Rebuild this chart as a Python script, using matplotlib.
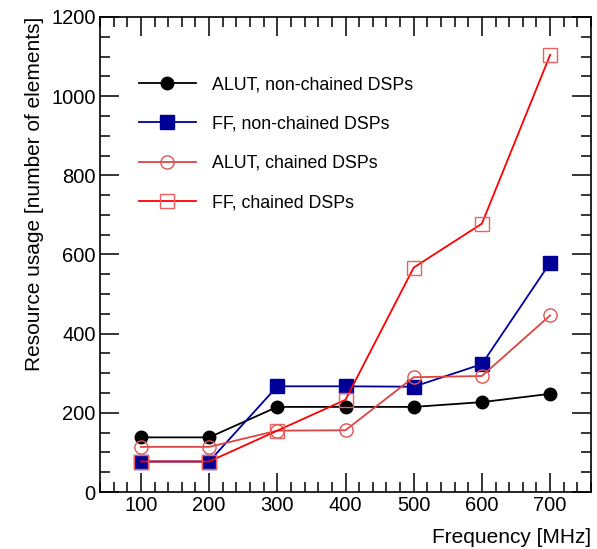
import numpy as np
import matplotlib.pyplot as plt
from matplotlib.ticker import MultipleLocator

plt.rcParams['font.family'] = ['Liberation Sans', 'DejaVu Sans']

freq = [100, 200, 300, 400, 500, 600, 700]
alut_nonchained = [138, 138, 215, 215, 215, 227, 248]
ff_nonchained = [77, 77, 267, 267, 266, 323, 579]
alut_chained = [114, 114, 155, 156, 290, 293, 446]
ff_chained = [77, 77, 155, 233, 567, 678, 1104]

fig = plt.figure(figsize=(5.97, 5.49), dpi=100)
ax = fig.add_axes([100 / 597, 1 - 492 / 549, 491 / 597, 475 / 549])

ax.plot(freq, alut_nonchained, color='black', lw=1.3, marker='o', ms=9,
        label='ALUT, non-chained DSPs')
ax.plot(freq, ff_nonchained, color='#000099', lw=1.3, marker='s', ms=9.5,
        label='FF, non-chained DSPs')
ax.plot(freq, alut_chained, color='#dd4444', lw=1.3, marker='o', ms=9.5,
        mfc='none', mec='#e05555', label='ALUT, chained DSPs')
ax.plot(freq, ff_chained, color='#ff0000', lw=1.3, marker='s', ms=9.5,
        mfc='none', mec='#ee6060', label='FF, chained DSPs')

ax.set_xlim(40, 760)
ax.set_ylim(0, 1200)
ax.xaxis.set_major_locator(MultipleLocator(100))
ax.xaxis.set_minor_locator(MultipleLocator(20))
ax.yaxis.set_major_locator(MultipleLocator(200))
ax.yaxis.set_minor_locator(MultipleLocator(50))
ax.tick_params(which='both', direction='in', top=True, right=True,
               labeltop=False, labelright=False, width=1.1, labelsize=14.5)
ax.tick_params(which='major', length=14, pad=3)
ax.tick_params(which='minor', length=7)
for s in ax.spines.values():
    s.set_linewidth(1.2)

ax.set_xlabel('Frequency [MHz]', fontsize=15, loc='right', labelpad=9)
ax.set_ylabel('Resource usage [number of elements]', fontsize=15, loc='top', labelpad=5)

ax.legend(loc='upper left', bbox_to_anchor=(0.065, 0.89), frameon=False,
          fontsize=12.8, handlelength=3.2, labelspacing=1.25, handletextpad=0.9,
          borderaxespad=0)

fig.savefig('out.png', dpi=100)
